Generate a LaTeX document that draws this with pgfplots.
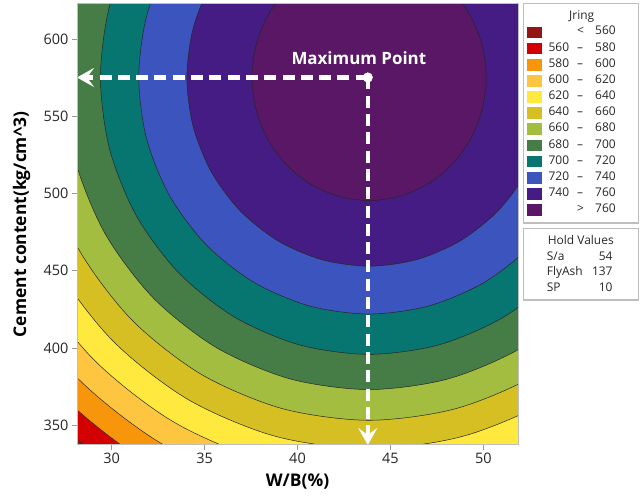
\documentclass[border=0pt]{standalone}
\usepackage{pgfplots}
\pgfplotsset{compat=1.18}
\usepackage{fontspec}
\setmainfont{Open Sans}
\usetikzlibrary{arrows.meta}
\definecolor{c0}{RGB}{146,22,22}
\definecolor{c1}{RGB}{210,0,0}
\definecolor{c2}{RGB}{247,150,11}
\definecolor{c3}{RGB}{253,197,64}
\definecolor{c4}{RGB}{255,233,62}
\definecolor{c5}{RGB}{214,191,34}
\definecolor{c6}{RGB}{163,189,64}
\definecolor{c7}{RGB}{70,124,70}
\definecolor{c8}{RGB}{7,117,112}
\definecolor{c9}{RGB}{60,85,190}
\definecolor{c10}{RGB}{68,28,131}
\definecolor{c11}{RGB}{89,23,102}
\definecolor{framegray}{RGB}{190,190,190}
\begin{document}
\begin{tikzpicture}[x=1bp,y=1bp]
\path[use as bounding box] (0,0) rectangle (644,497);
\begin{axis}[
  at={(77bp,52bp)}, anchor=south west,
  width=441bp, height=441bp, scale only axis,
  xmin=28.14, xmax=51.86, ymin=337.2, ymax=622.8,
  axis background/.style={fill=c0},
  axis on top,
  axis line style={draw=framegray, line width=1bp},
  tick align=outside, xtick pos=bottom, ytick pos=left,
  major tick length=5bp,
  tick style={draw=gray!80, line width=0.8bp},
  xtick={30,35,40,45,50}, ytick={350,400,450,500,550,600},
  tick label style={font=\fontsize{14.5}{16}\selectfont, text=black!85},
  /pgf/number format/assume math mode=true,
  xlabel={W/B(\%)}, ylabel={Cement content(kg/cm\textasciicircum 3)},
  every axis x label/.style={at={(axis description cs:0.5,-0.0832)}, anchor=center, font=\bfseries\fontsize{17.5}{20}\selectfont},
  every axis y label/.style={at={(axis description cs:-0.1254,0.5)}, rotate=90, anchor=center, font=\bfseries\fontsize{17.5}{20}\selectfont},
  contour/.style={smooth, draw=black!85, line width=0.5bp},
]
% contour 560
\addplot[contour, fill=c1] coordinates {(43.85,879.0) (37.432,868.64) (31.45,838.29) (26.314,790.02) (22.373,727.1) (19.896,653.82) (19.05,575.2) (19.896,496.58) (22.373,423.3) (26.314,360.38) (31.45,312.11) (37.432,281.76) (43.85,271.4) (50.268,281.76) (56.25,312.11) (61.386,360.38) (65.327,423.3) (67.804,496.58) (68.65,575.2) (67.804,653.82) (65.327,727.1) (61.386,790.02) (56.25,838.29) (50.268,868.64) (43.85,879.0)};
% contour 580
\addplot[contour, fill=c2] coordinates {(43.85,864.5) (37.755,854.64) (32.075,825.73) (27.198,779.76) (23.456,719.85) (21.103,650.07) (20.30,575.2) (21.103,500.33) (23.456,430.55) (27.198,370.64) (32.075,324.67) (37.755,295.76) (43.85,285.9) (49.945,295.76) (55.625,324.67) (60.502,370.64) (64.244,430.55) (66.597,500.33) (67.40,575.2) (66.597,650.07) (64.244,719.85) (60.502,779.76) (55.625,825.73) (49.945,854.64) (43.85,864.5)};
% contour 600
\addplot[contour, fill=c3] coordinates {(43.85,849.1) (38.079,839.77) (32.70,812.4) (28.082,768.87) (24.538,712.15) (22.31,646.09) (21.55,575.2) (22.31,504.31) (24.538,438.25) (28.082,381.53) (32.70,338.0) (38.079,310.63) (43.85,301.3) (49.621,310.63) (55.0,338.0) (59.618,381.53) (63.162,438.25) (65.39,504.31) (66.15,575.2) (65.39,646.09) (63.162,712.15) (59.618,768.87) (55.0,812.4) (49.621,839.77) (43.85,849.1)};
% contour 620
\addplot[contour, fill=c4] coordinates {(43.85,832.9) (38.415,824.11) (33.35,798.37) (29.001,757.42) (25.664,704.05) (23.566,641.89) (22.85,575.2) (23.566,508.51) (25.664,446.35) (29.001,392.98) (33.35,352.03) (38.415,326.29) (43.85,317.5) (49.285,326.29) (54.35,352.03) (58.699,392.98) (62.036,446.35) (64.134,508.51) (64.85,575.2) (64.134,641.89) (62.036,704.05) (58.699,757.42) (54.35,798.37) (49.285,824.11) (43.85,832.9)};
% contour 640
\addplot[contour, fill=c5] coordinates {(43.85,815.7) (38.79,807.5) (34.075,783.47) (30.026,745.26) (26.92,695.45) (24.967,637.44) (24.30,575.2) (24.967,512.96) (26.92,454.95) (30.026,405.14) (34.075,366.93) (38.79,342.9) (43.85,334.7) (48.91,342.9) (53.625,366.93) (57.674,405.14) (60.78,454.95) (62.733,512.96) (63.40,575.2) (62.733,637.44) (60.78,695.45) (57.674,745.26) (53.625,783.47) (48.91,807.5) (43.85,815.7)};
% contour 660
\addplot[contour, fill=c6] coordinates {(43.85,797.2) (39.179,789.63) (34.825,767.45) (31.087,732.18) (28.219,686.2) (26.415,632.65) (25.80,575.2) (26.415,517.75) (28.219,464.2) (31.087,418.22) (34.825,382.95) (39.179,360.77) (43.85,353.2) (48.521,360.77) (52.875,382.95) (56.613,418.22) (59.481,464.2) (61.285,517.75) (61.90,575.2) (61.285,632.65) (59.481,686.2) (56.613,732.18) (52.875,767.45) (48.521,789.63) (43.85,797.2)};
% contour 680
\addplot[contour, fill=c7] coordinates {(43.85,777.3) (39.606,770.41) (35.65,750.22) (32.254,718.1) (29.648,676.25) (28.009,627.5) (27.45,575.2) (28.009,522.9) (29.648,474.15) (32.254,432.3) (35.65,400.18) (39.606,379.99) (43.85,373.1) (48.094,379.99) (52.05,400.18) (55.446,432.3) (58.052,474.15) (59.691,522.9) (60.25,575.2) (59.691,627.5) (58.052,676.25) (55.446,718.1) (52.05,750.22) (48.094,770.41) (43.85,777.3)};
% contour 700
\addplot[contour, fill=c8] coordinates {(43.85,754.5) (40.11,748.39) (36.625,730.47) (33.632,701.98) (31.336,664.85) (29.893,621.6) (29.40,575.2) (29.893,528.8) (31.336,485.55) (33.632,448.42) (36.625,419.93) (40.11,402.01) (43.85,395.9) (47.59,402.01) (51.075,419.93) (54.068,448.42) (56.364,485.55) (57.807,528.8) (58.30,575.2) (57.807,621.6) (56.364,664.85) (54.068,701.98) (51.075,730.47) (47.59,748.39) (43.85,754.5)};
% contour 720
\addplot[contour, fill=c9] coordinates {(43.85,728.4) (40.643,723.18) (37.655,707.87) (35.089,683.53) (33.12,651.8) (31.882,614.85) (31.46,575.2) (31.882,535.55) (33.12,498.6) (35.089,466.87) (37.655,442.53) (40.643,427.22) (43.85,422.0) (47.057,427.22) (50.045,442.53) (52.611,466.87) (54.58,498.6) (55.818,535.55) (56.24,575.2) (55.818,614.85) (54.58,651.8) (52.611,683.53) (50.045,707.87) (47.057,723.18) (43.85,728.4)};
% contour 740
\addplot[contour, fill=c10] coordinates {(43.85,697.4) (41.314,693.23) (38.95,681.03) (36.92,661.61) (35.363,636.3) (34.384,606.83) (34.05,575.2) (34.384,543.57) (35.363,514.1) (36.92,488.79) (38.95,469.37) (41.314,457.17) (43.85,453.0) (46.386,457.17) (48.75,469.37) (50.78,488.79) (52.337,514.1) (53.316,543.57) (53.65,575.2) (53.316,606.83) (52.337,636.3) (50.78,661.61) (48.75,681.03) (46.386,693.23) (43.85,697.4)};
% contour 760
\addplot[contour, fill=c11] coordinates {(43.85,654.9) (42.22,652.18) (40.70,644.22) (39.395,631.56) (38.394,615.05) (37.765,595.83) (37.55,575.2) (37.765,554.57) (38.394,535.35) (39.395,518.84) (40.70,506.18) (42.22,498.22) (43.85,495.5) (45.48,498.22) (47.0,506.18) (48.305,518.84) (49.306,535.35) (49.935,554.57) (50.15,575.2) (49.935,595.83) (49.306,615.05) (48.305,631.56) (47.0,644.22) (45.48,652.18) (43.85,654.9)};
% maximum point annotation
\addplot[white, line width=4.5bp, dash pattern=on 12bp off 6.3bp, -{Stealth[length=17bp,width=19bp,inset=7bp]}] coordinates {(43.78,575.2) (28.14,575.2)};
\addplot[white, line width=4.5bp, dash pattern=on 12bp off 6.3bp, -{Stealth[length=17bp,width=19bp,inset=7bp]}] coordinates {(43.78,575.2) (43.78,337.2)};
\addplot[only marks, mark=*, mark size=4.8bp, white] coordinates {(43.78,575.2)};
\node[font=\bfseries\fontsize{17}{20}\selectfont, text=white] at (axis cs:43.3,587.6) {Maximum Point};
\end{axis}
% legend box
\draw[framegray, line width=1.1bp] (523.3,274) rectangle (638.3,493.7);
\draw[framegray, line width=1.1bp] (523.3,197) rectangle (638.3,268.7);
\begin{scope}[every node/.style={font=\fontsize{12}{14}\selectfont, inner sep=0pt, text=black!85}]
\node[anchor=base] at (581.7,477.7) {Jring};
\foreach \k/\c in {0/c0,1/c1,2/c2,3/c3,4/c4,5/c5,6/c6,7/c7,8/c8,9/c9,10/c10,11/c11}{
  \pgfmathsetmacro{\yt}{497-30.7-16.15*\k}
  \fill[\c] (527.3,\yt-7.6) rectangle (541.7,\yt+4.1);
}
\foreach \k/\a/\b in {1/560/580,2/580/600,3/600/620,4/620/640,5/640/660,6/660/680,7/680/700,8/700/720,9/720/740,10/740/760}{
  \pgfmathsetmacro{\yb}{497-30.7-16.15*\k-4.3}
  \node[anchor=base east] at (569.3,\yb) {\a};
  \node[anchor=base] at (580,\yb) {–};
  \node[anchor=base west] at (595,\yb) {\b};
}
\node[anchor=base] at (580.5,497-30.7-4.3) {<};
\node[anchor=base west] at (595,497-30.7-4.3) {560};
\node[anchor=base] at (580.5,497-30.7-16.15*11-4.3) {>};
\node[anchor=base west] at (595,497-30.7-16.15*11-4.3) {760};
% hold values
\node[anchor=base] at (580.8,252.7) {Hold Values};
\node[anchor=base west] at (546.7,236.7) {S/a};
\node[anchor=base east] at (612.7,236.7) {54};
\node[anchor=base west] at (546.7,221) {FlyAsh};
\node[anchor=base east] at (612.7,221) {137};
\node[anchor=base west] at (546.7,205.7) {SP};
\node[anchor=base east] at (612.7,205.7) {10};
\end{scope}
\end{tikzpicture}
\end{document}
